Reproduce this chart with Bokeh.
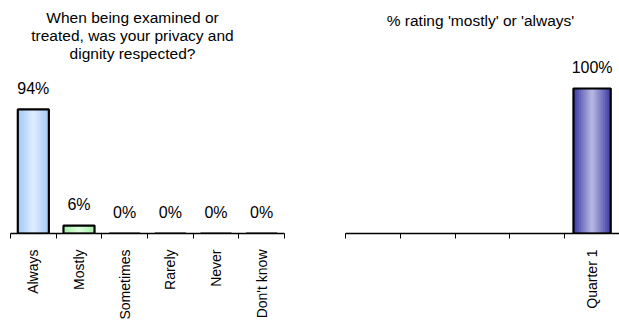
from bokeh.plotting import figure
from bokeh.layouts import row
from bokeh.models import ColumnDataSource, FixedTicker, Range1d, Label, LabelSet
from bokeh.core.properties import value
from bokeh.embed import file_html
from bokeh.resources import INLINE

# ---- data ----
left_title = ["When being examined or", "treated, was your privacy and", "dignity respected?"]
left_categories = ["Always", "Mostly", "Sometimes", "Rarely", "Never", "Don't know"]
left_values = [94, 6, 0, 0, 0, 0]

right_title = ["% rating 'mostly' or 'always'"]
right_categories = ["", "", "", "", "Quarter 1"]
right_values = [None, None, None, None, 100]

FONT = "Liberation Sans"


def lerp(c1, c2, t):
    a = [int(c1[i:i + 2], 16) for i in (1, 3, 5)]
    b = [int(c2[i:i + 2], 16) for i in (1, 3, 5)]
    return "#%02x%02x%02x" % tuple(round(a[k] + (b[k] - a[k]) * t) for k in range(3))


def make_panel(cats, vals, edge_cols, centre_cols, fw, fh, px_per_pct, bl, br,
               titles, title_x, title_y0):
    n = len(cats)
    centres = [i + 0.5 for i in range(n)]
    bounds = [float(i) for i in range(n + 1)]
    p = figure(output_backend="svg", toolbar_location=None,
               x_range=Range1d(0, n), y_range=Range1d(0, fh / px_per_pct),
               frame_width=fw, frame_height=fh,
               min_border_left=bl, min_border_right=br,
               min_border_top=0, min_border_bottom=88)
    p.outline_line_color = None
    p.background_fill_color = "white"
    p.border_fill_color = "white"
    p.grid.visible = False
    p.yaxis.visible = False

    xs = [c for c, v in zip(centres, vals) if v is not None]
    ys = [v for v in vals if v is not None]
    ec = [e for e, v in zip(edge_cols, vals) if v is not None]
    cc = [c for c, v in zip(centre_cols, vals) if v is not None]
    bw = 0.68
    layers = 10
    for k in range(layers):
        t = k / (layers - 1)
        cols = [lerp(e, c, t) for e, c in zip(ec, cc)]
        src = ColumnDataSource(dict(x=xs, top=ys, c=cols))
        p.vbar(x="x", top="top", bottom=0, width=bw * (1 - 0.9 * t), fill_color="c",
               line_color=None, source=src)
    src = ColumnDataSource(dict(x=xs, top=ys))
    p.vbar(x="x", top="top", bottom=0, width=bw, fill_color=None,
           line_color="black", line_width=2.2, source=src)

    lsrc = ColumnDataSource(dict(x=xs, y=ys, lab=["%d%%" % v for v in ys]))
    p.add_layout(LabelSet(x="x", y="y", text="lab", source=lsrc, text_align="center",
                          text_baseline="middle", y_offset=21, text_font=value(FONT),
                          text_font_size=value("16px"), text_color="black"))

    ax = p.xaxis[0]
    ax.ticker = FixedTicker(ticks=centres, minor_ticks=bounds)
    ax.major_label_overrides = {c: lab for c, lab in zip(centres, cats)}
    ax.major_label_orientation = 1.5707963267948966
    ax.major_tick_line_color = None
    ax.major_tick_out = 0
    ax.major_tick_in = 0
    ax.minor_tick_line_color = "black"
    ax.minor_tick_out = 5
    ax.minor_tick_in = 0
    ax.axis_line_color = "black"
    ax.axis_line_width = 1.5
    ax.major_label_standoff = 11
    ax.major_label_text_font = FONT
    ax.major_label_text_font_size = "14px"
    ax.major_label_text_color = "black"

    for i, line in enumerate(titles):
        p.add_layout(Label(x=title_x, y=title_y0 - 18 * i, x_units="screen", y_units="screen",
                           text=line, text_align="center", text_baseline="middle",
                           text_font=FONT, text_font_size="15.5px", text_color="black"))
    return p


left = make_panel(left_categories, left_values,
                  ["#a6c9f5", "#a6f0a6"], ["#dcecff", "#dcffdc"],
                  fw=274, fh=233, px_per_pct=1.32, bl=10, br=26,
                  titles=left_title, title_x=122, title_y0=216)
right = make_panel(right_categories, right_values,
                   [None, None, None, None, "#4040a8"], [None, None, None, None, "#b4b4e0"],
                   fw=274, fh=233, px_per_pct=1.45, bl=35, br=0,
                   titles=right_title, title_x=135, title_y0=213)

layout = row(left, right)
open("out.html", "w").write(file_html(layout, INLINE))
